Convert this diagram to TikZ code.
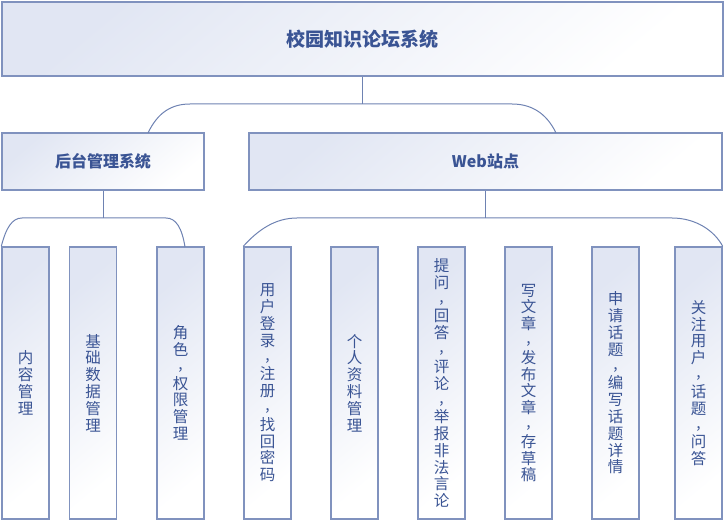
\documentclass[tikz,border=0pt]{standalone}
\usepackage{fontspec}
\setmainfont{Noto Sans CJK SC}
\usetikzlibrary{calc}
\definecolor{edge}{RGB}{128,146,190}
\definecolor{wire}{RGB}{110,130,178}
\definecolor{ink}{RGB}{58,84,148}
\definecolor{tint}{RGB}{225,230,243}
% comma lifted a little within its own line of a vertical label
\newcommand{\vsep}{\raisebox{0.18em}{,}}
\tikzset{
  box/.style={draw=edge, line width=1.4pt, rectangle, inner sep=0pt,
    top color=tint, bottom color=white, shading angle=40},
  headbox/.style={box, font=\bfseries\fontsize{19}{22}\selectfont, text=ink},
  subbox/.style={box, font=\bfseries\fontsize{16}{19}\selectfont, text=ink},
  leaf/.style={box, minimum width=47pt, minimum height=272pt, text width=22pt,
    align=center, text=ink, font=\fontsize{15.5}{16.8}\selectfont},
  wire/.style={draw=wire, line width=1pt},
}
\begin{document}
\begin{tikzpicture}[x=1pt, y=-1pt]
\useasboundingbox (0,0) rectangle (726,521);

% top level
\node[headbox, minimum width=721pt, minimum height=74pt] (sys) at (362.5,39) {校园知识论坛系统};

% second level
\node[subbox, minimum width=202pt, minimum height=57pt] (admin) at (103,161.5) {后台管理系统};
\node[subbox, minimum width=473pt, minimum height=57pt] (web) at (485.5,161.5) {Web站点};

% back-end modules
\node[leaf] (m1) at (25.5,383) {内\\容\\管\\理};
\node[leaf] (m2) at (93,383) {基\\础\\数\\据\\管\\理};
\node[leaf] (m3) at (180.5,383) {角\\色\\\vsep\\权\\限\\管\\理};

% web modules
\node[leaf] (w1) at (267.5,383) {用\\户\\登\\录\\\vsep\\注\\册\\\vsep\\找\\回\\密\\码};
\node[leaf] (w2) at (354.5,383) {个\\人\\资\\料\\管\\理};
\node[leaf] (w3) at (441.5,383) {提\\问\\\vsep\\回\\答\\\vsep\\评\\论\\\vsep\\举\\报\\非\\法\\言\\论};
\node[leaf] (w4) at (528.5,383) {写\\文\\章\\\vsep\\发\\布\\文\\章\\\vsep\\存\\草\\稿};
\node[leaf] (w5) at (615.5,383) {申\\请\\话\\题\\\vsep\\编\\写\\话\\题\\详\\情};
\node[leaf] (w6) at (698.5,383) {关\\注\\用\\户\\\vsep\\话\\题\\\vsep\\问\\答};

% bracket anchor points
\coordinate (j0) at (sys.south |- 0,104);
\coordinate (la) at (148,133);
\coordinate (ra) at (556,133);
\coordinate (j1) at (admin.south |- 0,218);
\coordinate (j2) at (web.south |- 0,218);
\coordinate (m3a) at (185,247);

% system -> second level
\draw[wire] (sys.south) -- (j0);
\draw[wire] (la) .. controls (158,112) and (172,104) .. (190,104) -- (512,104)
  .. controls (530,104) and (546,112) .. (ra);

% admin -> modules
\draw[wire] (admin.south) -- (j1);
\draw[wire] (m1.north west) .. controls (6,228) and (12,218) .. (22,218) -- (166,218)
  .. controls (176,218) and (182,228) .. (m3a);

% web -> modules
\draw[wire] (web.south) -- (j2);
\draw[wire] (w1.north west) .. controls (258,230) and (275,218) .. (297,218) -- (672,218)
  .. controls (695,218) and (714,230) .. (w6.north east);
\end{tikzpicture}
\end{document}
